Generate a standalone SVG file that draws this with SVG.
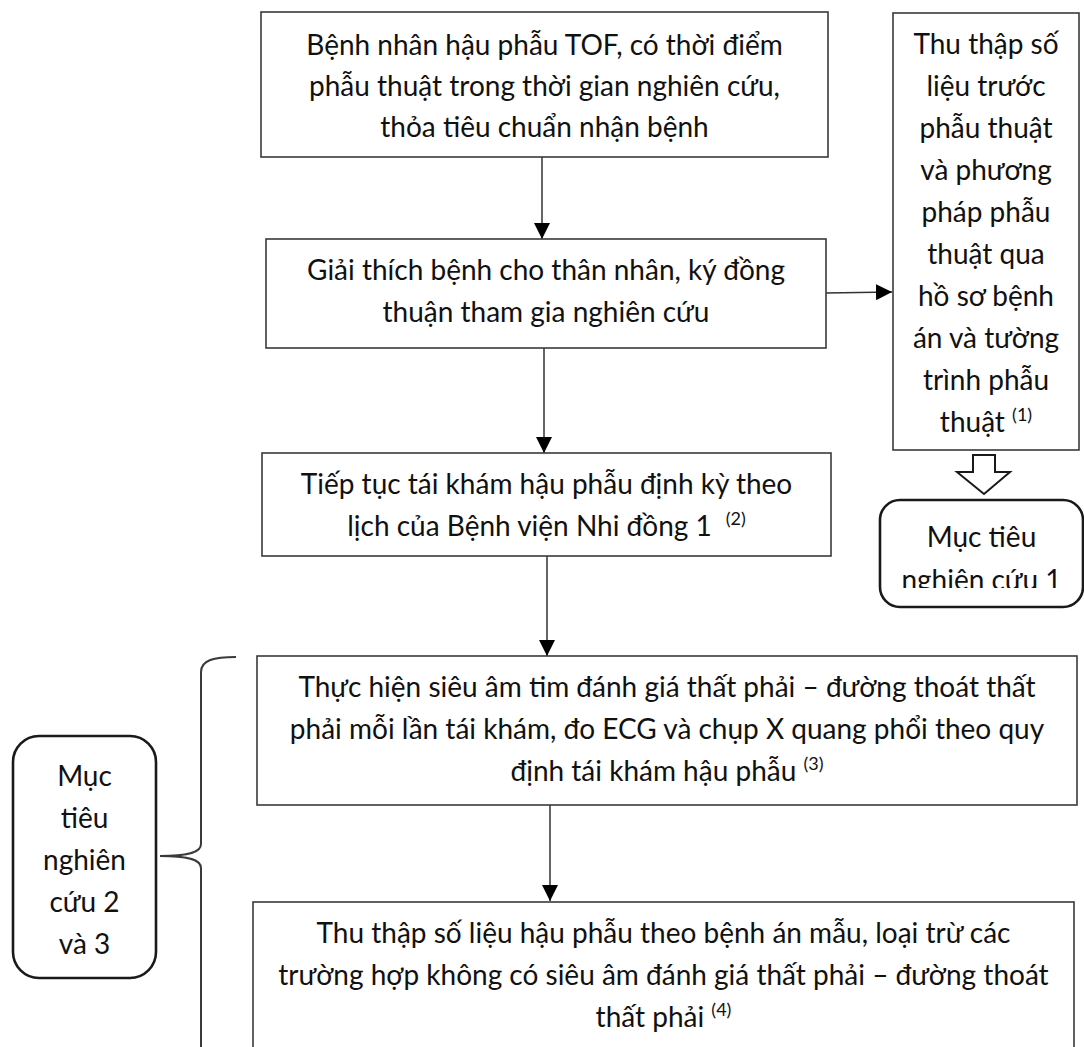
<svg xmlns="http://www.w3.org/2000/svg" width="1084" height="1047" viewBox="0 0 1084 1047">
<style>
.box{fill:#fff;stroke:#3a3a3a;stroke-width:1.6}
.rbox{fill:#fff;stroke:#1a1a1a;stroke-width:2.6}
.t{font-family:Lato,"Noto Sans",sans-serif;font-size:28px;fill:#111;text-anchor:middle}
.sup{font-size:18px}
.conn{stroke:#333;stroke-width:1.5;fill:none}
</style>
<defs>
<marker id="ah" markerUnits="userSpaceOnUse" markerWidth="16" markerHeight="16" viewBox="0 0 16 16" refX="16" refY="8" orient="auto">
<path d="M0,0 L16,8 L0,16 Z" fill="#000"/>
</marker>
<clipPath id="clip1"><rect x="880" y="500" width="204" height="88"/></clipPath>
</defs>
<rect width="1084" height="1047" fill="#fff"/>

<g id="connectors">
<line class="conn" x1="542" y1="157" x2="542" y2="239" marker-end="url(#ah)"/>
<line class="conn" x1="544" y1="348" x2="544" y2="453" marker-end="url(#ah)"/>
<line class="conn" x1="547" y1="556" x2="547" y2="656" marker-end="url(#ah)"/>
<line class="conn" x1="550" y1="805" x2="550" y2="901" marker-end="url(#ah)"/>
<line class="conn" x1="826" y1="293" x2="892" y2="292" marker-end="url(#ah)"/>
<polygon points="973,455 995,455 995,472 1010,472 984,494 957,472 973,472" fill="#fff" stroke="#1a1a1a" stroke-width="2"/>
<path d="M236,657 C214,657 201,660 201,672 L201,844 C201,852 190,856 160,856 C190,856 201,860 201,868 L201,1050" fill="none" stroke="#3a3a3a" stroke-width="2"/>
</g>

<g id="n1">
<rect class="box" x="261" y="12" width="567" height="145"/>
<text class="t" x="544.5" y="55">Bệnh nhân hậu phẫu TOF, có thời điểm</text>
<text class="t" x="544.5" y="96">phẫu thuật trong thời gian nghiên cứu,</text>
<text class="t" x="544.5" y="137">thỏa tiêu chuẩn nhận bệnh</text>
</g>

<g id="n2">
<rect class="box" x="266" y="239" width="560" height="109"/>
<text class="t" x="546" y="280">Giải thích bệnh cho thân nhân, ký đồng</text>
<text class="t" x="546" y="322">thuận tham gia nghiên cứu</text>
</g>

<g id="n3">
<rect class="box" x="262" y="453" width="569" height="103"/>
<text class="t" x="546.5" y="494">Tiếp tục tái khám hậu phẫu định kỳ theo</text>
<text class="t" x="546.5" y="536">lịch của Bệnh viện Nhi đồng 1<tspan class="sup" dx="14" dy="-11">(2)</tspan></text>
</g>

<g id="n4">
<rect class="box" x="257" y="656" width="820" height="149"/>
<text class="t" x="667" y="697">Thực hiện siêu âm tim đánh giá thất phải – đường thoát thất</text>
<text class="t" x="667" y="739">phải mỗi lần tái khám, đo ECG và chụp X quang phổi theo quy</text>
<text class="t" x="667" y="781">định tái khám hậu phẫu <tspan class="sup" dy="-11">(3)</tspan></text>
</g>

<g id="n5">
<rect class="box" x="253" y="902" width="821" height="160"/>
<text class="t" x="663.5" y="943">Thu thập số liệu hậu phẫu theo bệnh án mẫu, loại trừ các</text>
<text class="t" x="663.5" y="985">trường hợp không có siêu âm đánh giá thất phải – đường thoát</text>
<text class="t" x="663.5" y="1027">thất phải <tspan class="sup" dy="-11">(4)</tspan></text>
</g>

<g id="n6">
<rect class="box" x="893" y="13" width="186" height="437"/>
<text class="t" x="986" y="54">Thu thập số</text>
<text class="t" x="986" y="96">liệu trước</text>
<text class="t" x="986" y="138">phẫu thuật</text>
<text class="t" x="986" y="180">và phương</text>
<text class="t" x="986" y="222">pháp phẫu</text>
<text class="t" x="986" y="264">thuật qua</text>
<text class="t" x="986" y="306">hồ sơ bệnh</text>
<text class="t" x="986" y="348">án và tường</text>
<text class="t" x="986" y="390">trình phẫu</text>
<text class="t" x="986" y="432">thuật <tspan class="sup" dy="-11">(1)</tspan></text>
</g>

<g id="n7">
<rect class="rbox" x="880" y="500" width="203" height="107" rx="20" ry="20"/>
<g clip-path="url(#clip1)">
<text class="t" x="981.5" y="547">Mục tiêu</text>
<text class="t" x="981.5" y="590">nghiên cứu 1</text>
</g>
</g>

<g id="n8">
<rect class="rbox" x="13" y="736" width="143" height="242" rx="26" ry="26"/>
<text class="t" x="84.5" y="786">Mục</text>
<text class="t" x="84.5" y="828">tiêu</text>
<text class="t" x="84.5" y="870">nghiên</text>
<text class="t" x="84.5" y="912">cứu 2</text>
<text class="t" x="84.5" y="954">và 3</text>
</g>
</svg>
